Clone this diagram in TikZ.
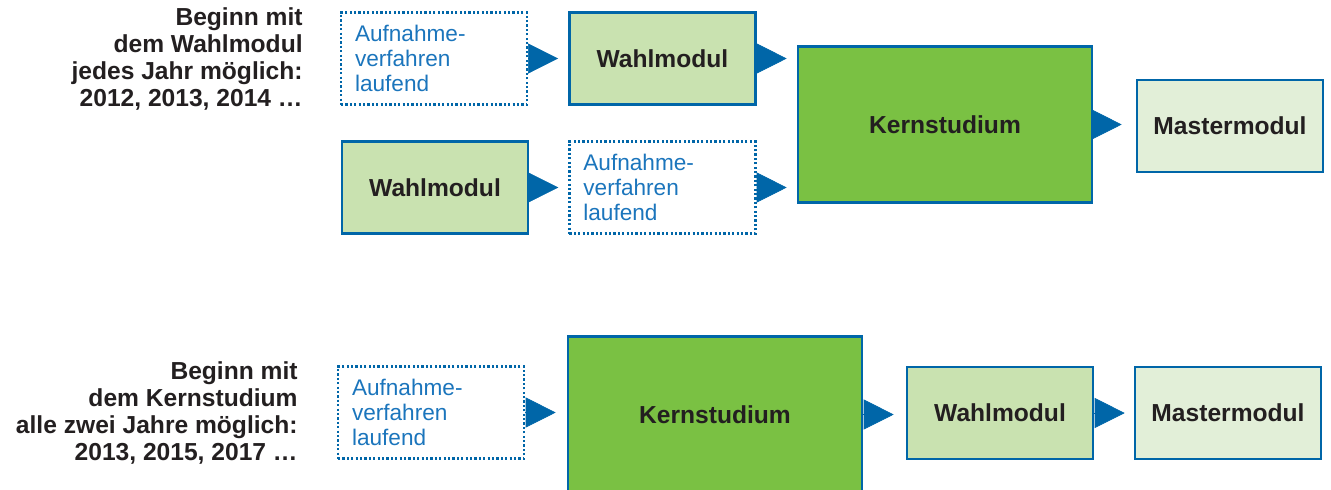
\documentclass[tikz,border=0pt]{standalone}
\usepackage{fontspec}
\setmainfont{Liberation Sans}
\usetikzlibrary{positioning,arrows.meta,calc}
\definecolor{kblue}{RGB}{0,102,168}
\definecolor{tblue}{RGB}{27,117,188}
\definecolor{kgreen}{RGB}{122,193,67}
\definecolor{wgreen}{RGB}{201,226,176}
\definecolor{mgreen}{RGB}{226,239,216}
\definecolor{ktext}{RGB}{35,31,32}
\tikzset{
  box/.style={draw=kblue,line width=1.3pt,minimum width=93pt,minimum height=46pt,inner sep=0pt,
    text=ktext,font=\bfseries\fontsize{12.3}{13.5}\selectfont},
  wahl/.style={box,fill=wgreen},
  kern/.style={box,fill=kgreen,minimum width=147pt,minimum height=78pt},
  master/.style={box,fill=mgreen},
  aufn/.style={draw=kblue,line width=1.1pt,dash pattern=on 1.1pt off 1.1pt,minimum height=46pt,
    text width=79pt,inner xsep=7pt,inner ysep=0pt,align=left,text=tblue,font=\fontsize{11.3}{12.3}\selectfont},
  note/.style={align=right,inner sep=0pt,text=ktext,font=\bfseries\fontsize{12.3}{13.5}\selectfont},
  flow/.style={-{Triangle[length=15pt,width=15pt]},draw=kblue,fill=kblue,line width=0.3pt,shorten >=5pt}
}
\begin{document}
\begin{tikzpicture}[x=0.5pt,y=-0.5pt]
\useasboundingbox (0,0) rectangle (1331,489);
\node[note,anchor=east] (L1) at (303,58.5) {Beginn mit\\dem Wahlmodul\\jedes Jahr möglich:\\2012, 2013, 2014 …};
\node[aufn] (A1) at (434,58.5) {Aufnahme-\\verfahren\\laufend};
\node[wahl,right=20pt of A1] (W1) {Wahlmodul};
\node[wahl] (W2) at (435,187.5) {Wahlmodul};
\node[aufn,right=19.5pt of W2] (A2) {Aufnahme-\\verfahren\\laufend};
\node[kern] (K1) at (945,124.5) {Kernstudium};
\node[master] (M1) at (1230,126) {Mastermodul};
\draw[flow] (A1.east) -- (W1.west);
\draw[flow] (W1.east) -- (W1.east -| K1.west);
\draw[flow] (W2.east) -- (A2.west);
\draw[flow] (A2.east) -- (A2.east -| K1.west);
\draw[flow,shorten >=7pt] (K1.east) -- (K1.east -| M1.west);

\node[note,anchor=east] (L2) at (298,412.5) {Beginn mit\\dem Kernstudium\\alle zwei Jahre möglich:\\2013, 2015, 2017 …};
\node[aufn] (A3) at (431,412.5) {Aufnahme-\\verfahren\\laufend};
\node[kern] (K2) at (715,414.5) {Kernstudium};
\node[wahl] (W3) at (1000,413) {Wahlmodul};
\node[master] (M2) at (1228,413) {Mastermodul};
\draw[flow,shorten >=5.5pt] (A3.east) -- (A3.east -| K2.west);
\draw[flow,shorten >=6pt] (K2.east) -- (K2.east -| W3.west);
\draw[flow,shorten >=4.5pt] (W3.east) -- (M2.west);
\end{tikzpicture}
\end{document}
